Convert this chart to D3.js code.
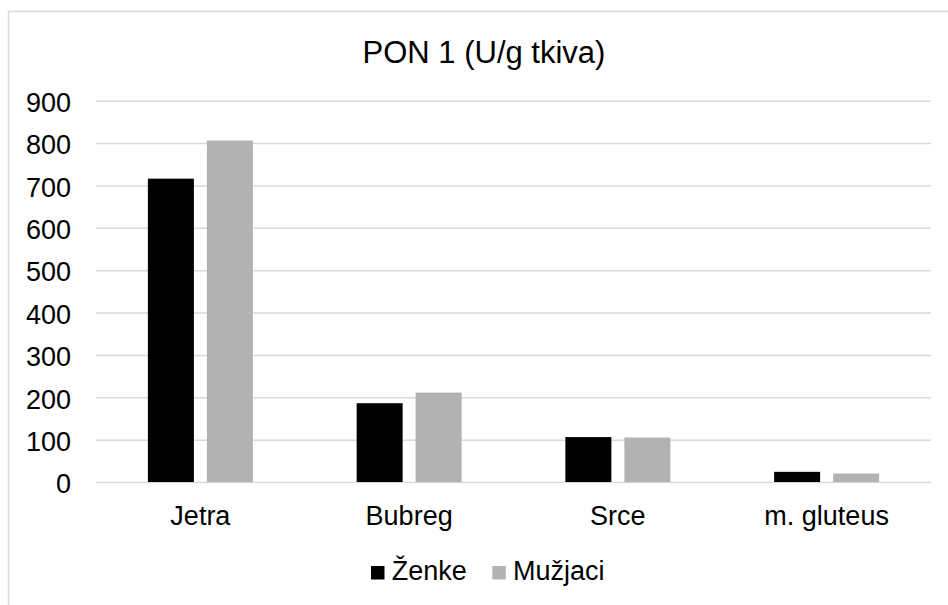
<!DOCTYPE html>
<html>
<head>
<meta charset="utf-8">
<script src="https://cdn.jsdelivr.net/npm/d3@7.9.0/dist/d3.min.js"></script>
<style>
  html, body { margin: 0; padding: 0; background: #fff; }
  svg { display: block; font-family: "Liberation Sans", Arial, sans-serif; }
</style>
</head>
<body>
<div id="chart"></div>
<script>
const categories = ['Jetra', 'Bubreg', 'Srce', 'm. gluteus'];
const seriesNames = ['Ženke', 'Mužjaci'];
const zenke = [716, 186, 106, 24];
const muzjaci = [806, 211, 105, 20];
const yTicks = [0, 100, 200, 300, 400, 500, 600, 700, 800, 900];
const seriesColors = ['#000000', '#b2b2b2'];

const width = 948;
const height = 605;
const plot = { left: 96, right: 931, top: 100.7, bottom: 482 };
const labelSize = 27;

const rows = categories.map((c, i) => ({ category: c, values: [zenke[i], muzjaci[i]] }));

const svg = d3.select('#chart')
  .append('svg')
  .attr('width', width)
  .attr('height', height);

// chart frame (runs off the right/bottom edge)
svg.append('rect')
  .attr('x', 8.5)
  .attr('y', 11.5)
  .attr('width', 960)
  .attr('height', 620)
  .attr('fill', '#fff')
  .attr('stroke', '#d9d9d9')
  .attr('stroke-width', 1.5);

const x0 = d3.scaleBand()
  .domain(categories)
  .range([plot.left, plot.right]);

const groupWidth = x0.bandwidth() * 0.503;
const x1 = d3.scaleBand()
  .domain(seriesNames)
  .range([(x0.bandwidth() - groupWidth) / 2, (x0.bandwidth() + groupWidth) / 2])
  .paddingInner(0.22);

const y = d3.scaleLinear()
  .domain([0, 900])
  .range([plot.bottom, plot.top]);

// gridlines
svg.append('g')
  .attr('class', 'gridlines')
  .attr('transform', `translate(${plot.left}, 0)`)
  .call(d3.axisLeft(y).tickValues(yTicks).tickFormat('').tickSize(-(plot.right - plot.left)))
  .call(g => g.select('.domain').remove())
  .call(g => g.selectAll('line').attr('stroke', '#d9d9d9').attr('stroke-width', 1.5));

// y axis labels
svg.append('g')
  .attr('transform', `translate(71, 0)`)
  .call(d3.axisLeft(y).tickValues(yTicks).tickSize(0).tickPadding(0))
  .call(g => g.select('.domain').remove())
  .call(g => g.selectAll('text')
    .attr('dy', '0.40em')
    .attr('font-size', labelSize)
    .attr('font-family', '"Liberation Sans", Arial, sans-serif')
    .attr('fill', '#000'));

// bars
const groups = svg.append('g')
  .selectAll('g')
  .data(rows)
  .join('g')
  .attr('transform', d => `translate(${x0(d.category)}, 0)`);

groups.selectAll('rect')
  .data(d => d.values.map((v, i) => ({ key: seriesNames[i], value: v, color: seriesColors[i] })))
  .join('rect')
  .attr('x', d => x1(d.key))
  .attr('y', d => y(d.value))
  .attr('width', x1.bandwidth())
  .attr('height', d => y(0) - y(d.value))
  .attr('fill', d => d.color);

// x axis labels
svg.append('g')
  .attr('transform', `translate(0, ${plot.bottom})`)
  .call(d3.axisBottom(x0).tickSize(0).tickPadding(24))
  .call(g => g.select('.domain').remove())
  .call(g => g.selectAll('text')
    .attr('font-size', labelSize)
    .attr('font-family', '"Liberation Sans", Arial, sans-serif')
    .attr('fill', '#000'));

// title
svg.append('text')
  .attr('x', 484)
  .attr('y', 62.5)
  .attr('text-anchor', 'middle')
  .attr('font-size', 31)
  .attr('fill', '#000')
  .text('PON 1 (U/g tkiva)');

// legend
const legend = svg.append('g').attr('transform', 'translate(371, 0)');
const legendX = [0, 121.3];
seriesNames.forEach((name, i) => {
  legend.append('rect')
    .attr('x', legendX[i])
    .attr('y', 566)
    .attr('width', 13.5)
    .attr('height', 13.5)
    .attr('fill', seriesColors[i]);
  legend.append('text')
    .attr('x', legendX[i] + 20.7)
    .attr('y', 580)
    .attr('font-size', labelSize)
    .attr('fill', '#000')
    .text(name);
});
</script>
</body>
</html>
